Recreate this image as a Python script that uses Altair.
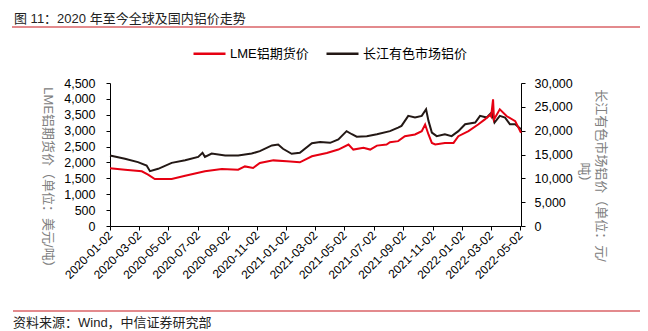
import altair as alt
import pandas as pd

# ---------------- data ----------------
series_names = ["LME铝期货价", "长江有色市场铝价"]

lme_dates = [
    "2020-01-02", "2020-02-02", "2020-03-08", "2020-03-21", "2020-04-04", "2020-05-09",
    "2020-06-06", "2020-07-17", "2020-08-21", "2020-09-24", "2020-10-08", "2020-10-25",
    "2020-11-08", "2020-12-06", "2021-01-03", "2021-01-30", "2021-02-24", "2021-03-27",
    "2021-04-20", "2021-05-11", "2021-05-21", "2021-06-11", "2021-06-25", "2021-07-09",
    "2021-07-29", "2021-08-05", "2021-08-22", "2021-09-05", "2021-09-26", "2021-10-10",
    "2021-10-17", "2021-10-24", "2021-10-31", "2021-11-07", "2021-11-27", "2021-12-15",
    "2021-12-25", "2022-01-15", "2022-02-04", "2022-02-18", "2022-03-01", "2022-03-03",
    "2022-03-07", "2022-03-09", "2022-03-21", "2022-04-04", "2022-04-22", "2022-05-04",
]
lme_values = [
    1820, 1770, 1720, 1615, 1480, 1480,
    1580, 1720, 1795, 1770, 1875, 1825,
    1985, 2065, 2035, 2005, 2195, 2300,
    2405, 2565, 2405, 2460, 2405, 2530,
    2565, 2635, 2670, 2825, 2880, 2985,
    3195, 2880, 2615, 2565, 2615, 2615,
    2825, 2985, 3195, 3355, 3500, 3450,
    3985, 3350, 3670, 3460, 3300, 2935,
]

cj_dates = [
    "2020-01-02", "2020-02-02", "2020-02-29", "2020-03-18", "2020-03-25", "2020-04-11",
    "2020-05-09", "2020-06-06", "2020-07-03", "2020-07-12", "2020-07-17", "2020-07-31",
    "2020-08-28", "2020-09-24", "2020-10-22", "2020-11-08", "2020-12-03", "2020-12-16",
    "2020-12-26", "2021-01-13", "2021-01-30", "2021-02-24", "2021-03-13", "2021-04-03",
    "2021-04-20", "2021-05-07", "2021-05-18", "2021-05-28", "2021-06-18", "2021-07-09",
    "2021-08-05", "2021-08-22", "2021-08-29", "2021-09-12", "2021-09-26", "2021-10-10",
    "2021-10-19", "2021-10-24", "2021-10-31", "2021-11-10", "2021-11-27", "2021-12-11",
    "2021-12-25", "2022-01-08", "2022-01-29", "2022-02-08", "2022-02-22", "2022-03-04",
    "2022-03-10", "2022-03-21", "2022-04-01", "2022-04-11", "2022-04-22", "2022-05-04",
]
cj_values = [
    14800, 14100, 13400, 12700, 11500, 12000,
    13250, 13800, 14500, 15350, 14500, 15200,
    14800, 14800, 15200, 15700, 16900, 17100,
    16200, 15150, 15350, 17350, 17600, 17450,
    18150, 19900, 19250, 18750, 18850, 19250,
    19900, 20650, 21000, 23100, 22750, 23100,
    24500, 22050, 19600, 18850, 19250, 18850,
    19900, 21350, 21700, 23100, 22750, 23800,
    21700, 23100, 22750, 21350, 21350, 20300,
]

x_tick_dates = [
    "2020-01-02", "2020-03-02", "2020-05-02", "2020-07-02", "2020-09-02", "2020-11-02",
    "2021-01-02", "2021-03-02", "2021-05-02", "2021-07-02", "2021-09-02", "2021-11-02",
    "2022-01-02", "2022-03-02", "2022-05-02",
]
x_domain = ["2020-01-02", "2022-05-04"]
left_ticks = [0, 500, 1000, 1500, 2000, 2500, 3000, 3500, 4000, 4500]
right_ticks = [0, 5000, 10000, 15000, 20000, 25000, 30000]

title_text = ["图 11：2020 年至今全球及国内铝价走势"]
source_text = ["资料来源：Wind，中信证券研究部"]
left_title = "LME铝期货价（单位：美元/吨）"
right_title = ["长江有色市场铝价（单位：元/", "吨）"]

# ---------------- styling ----------------
FONT = "Liberation Sans, Noto Sans CJK SC"
RED = "#E60012"
DARK = "#231815"
RULE_RED = "#C8161D"


def dt(s):
    return alt.DateTime(year=int(s[:4]), month=int(s[5:7]), date=int(s[8:]), utc=True)


lme_df = pd.DataFrame({"date": lme_dates, "value": lme_values, "series": series_names[0]})
cj_df = pd.DataFrame({"date": cj_dates, "value": cj_values, "series": series_names[1]})

x_scale = alt.Scale(type="utc", domain=[dt(x_domain[0]), dt(x_domain[1])])
x_axis = alt.Axis(
    title=None,
    values=[dt(d) for d in x_tick_dates],
    labelExpr="utcFormat(datum.value, '%Y-%m-%d')",
    labelAngle=-45,
    labelAlign="right",
    labelBaseline="middle",
    labelFont=FONT,
    labelFontSize=12,
    labelColor="black",
    labelPadding=3,
    labelOverlap=False,
    labelFlush=False,
    labelBound=False,
    tickSize=4,
    tickColor="black",
    domainColor="black",
    grid=False,
)

color = alt.Color(
    "series:N",
    scale=alt.Scale(domain=series_names, range=[RED, DARK]),
    legend=alt.Legend(
        title=None,
        orient="none",
        legendX=82,
        legendY=-47,
        direction="horizontal",
        symbolType="stroke",
        symbolSize=1024,
        symbolStrokeWidth=2.5,
        labelFont=FONT,
        labelFontSize=13,
        labelColor="black",
        labelOffset=3,
        columnPadding=12,
        padding=0,
        labelLimit=300,
    ),
)

common_axis = dict(
    grid=False,
    labelFont=FONT,
    labelFontSize=12.5,
    labelColor="black",
    tickSize=4,
    tickColor="black",
    domainColor="black",
    format=",.0f",
    titleFont=FONT,
    titleFontSize=13,
    titleFontWeight="normal",
    titleColor="#808080",
    titleAngle=90,
    titleAlign="center",
    titleBaseline="middle",
    titleLineHeight=17,
)

red_line = alt.Chart(lme_df).mark_line(strokeWidth=2).encode(
    x=alt.X("date:T", scale=x_scale, axis=x_axis),
    y=alt.Y(
        "value:Q",
        scale=alt.Scale(domain=[0, 4500], nice=False, zero=True),
        axis=alt.Axis(orient="left", values=left_ticks, title=left_title,
                      titleX=-63, titleY=97, labelPadding=11, **common_axis),
    ),
    color=color,
)

black_line = alt.Chart(cj_df).mark_line(strokeWidth=2).encode(
    x=alt.X("date:T", scale=x_scale, axis=x_axis),
    y=alt.Y(
        "value:Q",
        scale=alt.Scale(domain=[0, 30000], nice=False, zero=True),
        axis=alt.Axis(orient="right", values=right_ticks, title=right_title,
                      titleX=79, titleY=92, labelPadding=9, **common_axis),
    ),
    color=color,
)

title_layer = alt.Chart(pd.DataFrame({"t": title_text})).mark_text(
    align="left", baseline="alphabetic", font=FONT, fontSize=13, color="#222222"
).encode(x=alt.value(-96), y=alt.value(-60), text="t:N")

source_layer = alt.Chart(pd.DataFrame({"t": source_text})).mark_text(
    align="left", baseline="alphabetic", font=FONT, fontSize=13, color="#222222"
).encode(x=alt.value(-97), y=alt.value(244), text="t:N")

top_rule = alt.Chart(pd.DataFrame({"r": [0]})).mark_rule(
    color=RULE_RED, strokeWidth=1.2
).encode(x=alt.value(-98), x2=alt.value(530), y=alt.value(-56))

bottom_rule = alt.Chart(pd.DataFrame({"r": [0]})).mark_rule(
    color=RULE_RED, strokeWidth=1.2
).encode(x=alt.value(-97), x2=alt.value(530), y=alt.value(228))

chart = (
    alt.layer(black_line, red_line, title_layer, source_layer, top_rule, bottom_rule)
    .resolve_scale(y="independent")
    .properties(
        width=411,
        height=143,
        autosize=alt.AutoSizeParams(type="none"),
        padding={"left": 110, "top": 83, "right": 127, "bottom": 105},
        background="white",
    )
    .configure_view(stroke=None)
)

chart.save("out.html", embed_options={"renderer": "svg", "actions": False})
